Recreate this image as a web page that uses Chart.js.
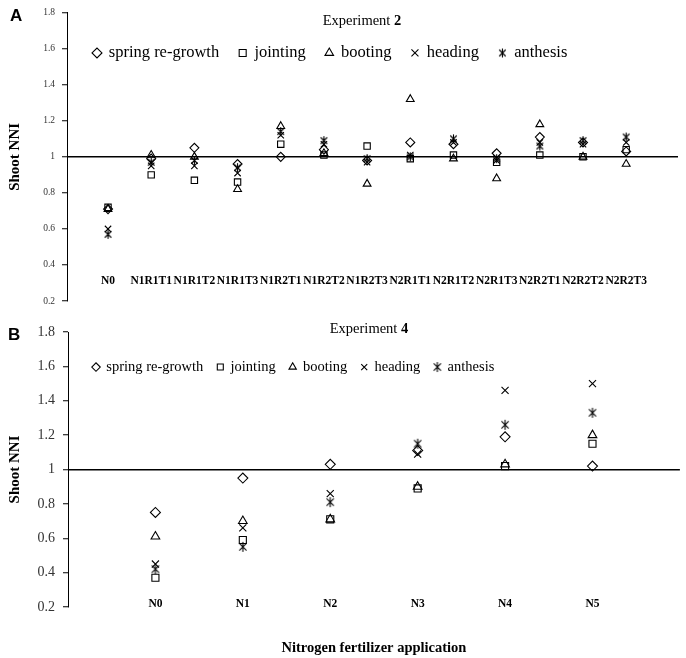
<!DOCTYPE html>
<html>
<head>
<meta charset="utf-8">
<script src="https://cdn.jsdelivr.net/npm/chart.js@4.4.0/dist/chart.umd.min.js"></script>
<style>
  body { margin: 0; background: #fff; }
  .wrap { position: relative; width: 686px; height: 658px; font-family: 'Liberation Serif', 'Times New Roman', serif; }
  canvas { position: absolute; left: 0; }
  .panel { position: absolute; font-family: 'Liberation Sans', Arial, sans-serif; font-weight: bold; font-size: 17px; line-height: 1; }
  .exp { position: absolute; font-size: 14.5px; transform: translate(-50%, -50%); white-space: nowrap; }
</style>
</head>
<body>
<div class="wrap">
  <canvas id="chartA" width="686" height="315" style="top:0"></canvas>
  <canvas id="chartB" width="686" height="343" style="top:315px"></canvas>
  <div class="panel" style="left:10px;top:7px">A</div>
  <div class="panel" style="left:8px;top:326px">B</div>
  <div class="exp" style="left:362px;top:20px">Experiment <b>2</b></div>
  <div class="exp" style="left:369px;top:328px">Experiment <b>4</b></div>
</div>
<script>
const seriesNames = ['spring re-growth', 'jointing', 'booting', 'heading', 'anthesis'];

// Experiment 2
const catsA = ['N0', 'N1R1T1', 'N1R1T2', 'N1R1T3', 'N1R2T1', 'N1R2T2', 'N1R2T3',
               'N2R1T1', 'N2R1T2', 'N2R1T3', 'N2R2T1', 'N2R2T2', 'N2R2T3'];
const springA   = [0.71, 0.99, 1.05, 0.96, 1.00, 1.04, 0.98, 1.08, 1.07, 1.02, 1.11, 1.08, 1.03];
const jointingA = [0.72, 0.90, 0.87, 0.86, 1.07, 1.01, 1.06, 0.99, 1.01, 0.97, 1.01, 1.00, 1.04];
const bootingA  = [0.71, 1.01, 1.00, 0.82, 1.17, 1.02, 0.85, 1.32, 0.99, 0.88, 1.18, 1.00, 0.96];
const headingA  = [0.60, 0.95, 0.95, 0.91, 1.12, 1.07, 0.97, 1.01, 1.08, 0.98, 1.08, 1.07, 1.08];
const anthesisA = [0.57, 0.97, 0.98, 0.94, 1.14, 1.09, 0.99, 1.00, 1.10, 0.99, 1.06, 1.09, 1.11];

// Experiment 4
const catsB = ['N0', 'N1', 'N2', 'N3', 'N4', 'N5'];
const springB   = [0.75, 0.95, 1.03, 1.11, 1.19, 1.02];
const jointingB = [0.37, 0.59, 0.71, 0.89, 1.02, 1.15];
const bootingB  = [0.61, 0.70, 0.71, 0.90, 1.03, 1.20];
const headingB  = [0.45, 0.66, 0.86, 1.09, 1.46, 1.50];
const anthesisB = [0.42, 0.55, 0.81, 1.15, 1.26, 1.33];

const yMin = 0.2, yMax = 1.8, yStep = 0.2;
const refLevel = 1;

Chart.defaults.font.family = "'Liberation Serif', 'Times New Roman', serif";
Chart.defaults.color = '#000';

// Excel style "star" marker: x with a vertical bar
function makeStar(r) {
  const s = Math.ceil(r * 2) + 2;
  const c = document.createElement('canvas');
  c.width = s; c.height = s;
  const g = c.getContext('2d');
  const m = s / 2, d = r * 0.72;
  g.strokeStyle = '#000';
  g.lineWidth = 1.1;
  g.beginPath();
  g.moveTo(m - d, m - d); g.lineTo(m + d, m + d);
  g.moveTo(m + d, m - d); g.lineTo(m - d, m + d);
  g.moveTo(m, m - r); g.lineTo(m, m + r);
  g.stroke();
  return c;
}

// legend sits inside the plot but keeps its items on one row
const rowLegend = {
  id: 'rowLegend',
  beforeLayout(chart) {
    if (chart.legend) chart.legend.isHorizontal = () => true;
  },
  afterLayout(chart, args, opts) {
    const lg = chart.legend;
    if (!lg) return;
    lg.left = chart.chartArea.left + (opts.shift || 0);
    lg.right = chart.chartArea.right;
  }
};

function panel(id, cats, series, opt) {
  const styles = ['rectRot', 'rect', 'triangle', 'crossRot', makeStar(opt.r)];
  new Chart(document.getElementById(id), {
    type: 'scatter',
    data: {
      datasets: series.map((vals, k) => ({
        label: seriesNames[k],
        data: vals.map((v, i) => ({ x: i + 1, y: v })),
        pointStyle: styles[k],
        pointRadius: opt.r,
        borderColor: '#000',
        backgroundColor: 'rgba(0,0,0,0)',
        borderWidth: 1.1
      }))
    },
    plugins: [rowLegend],
    options: {
      responsive: false,
      animation: false,
      layout: { padding: opt.pad },
      plugins: {
        tooltip: { enabled: false },
        rowLegend: { shift: opt.legendShift },
        legend: {
          position: 'chartArea',
          align: 'start',
          title: { display: true, text: '', font: { size: opt.legendGap }, padding: 0 },
          labels: {
            usePointStyle: true,
            boxWidth: opt.box,
            boxHeight: opt.box,
            padding: opt.legendPad,
            color: '#000',
            font: { size: opt.legendFont }
          }
        }
      },
      scales: {
        x: {
          type: 'linear',
          min: opt.xMin,
          max: opt.xMax,
          border: { display: false },
          grid: { display: false },
          afterBuildTicks: s => { s.ticks = cats.map((c, i) => ({ value: i + 1 })); },
          afterFit: s => { s.height = opt.xH; },
          ticks: {
            autoSkip: false,
            maxRotation: 0,
            mirror: true,
            padding: opt.xTickPad,
            color: '#000',
            font: { size: 11.5, weight: 'bold' },
            callback: v => cats[Math.round(v) - 1]
          },
          title: opt.xTitle
            ? { display: true, text: opt.xTitle, color: '#000', font: { size: 14.5, weight: 'bold' }, padding: { top: 0, bottom: 1 } }
            : { display: false }
        },
        y: {
          min: yMin,
          max: yMax,
          afterFit: s => { s.width = opt.yW; },
          border: { display: true, color: '#000', width: 1 },
          grid: {
            drawTicks: true,
            tickLength: 5,
            tickColor: '#000',
            tickWidth: 1,
            lineWidth: 1.5,
            color: c => Math.abs(c.tick.value - refLevel) < 1e-6 ? '#000' : 'rgba(0,0,0,0)'
          },
          ticks: {
            stepSize: yStep,
            padding: opt.yTickPad,
            color: '#333',
            font: { size: opt.yFont },
            callback: v => String(+v.toFixed(1))
          },
          title: {
            display: true,
            text: 'Shoot NNI',
            color: '#000',
            font: { size: 15, weight: 'bold' },
            padding: { top: 6, bottom: 0 }
          }
        }
      }
    }
  });
}

panel('chartA', catsA, [springA, jointingA, bootingA, headingA, anthesisA], {
  r: 4.5, pad: { top: 12, right: 8, bottom: 0, left: 0 },
  xMin: 0.05, xMax: 14.2, xH: 14, xTickPad: 13,
  yW: 67, yTickPad: 7, yFont: 9.5,
  legendFont: 16.5, legendPad: 20, box: 7, legendShift: 6.5, legendGap: 10
});

panel('chartB', catsB, [springB, jointingB, bootingB, headingB, anthesisB], {
  r: 5, pad: { top: 17, right: 6, bottom: 0, left: 0 },
  xMin: 0, xMax: 7, xH: 51, xTickPad: -4,
  yW: 68, yTickPad: 8, yFont: 14,
  legendFont: 14.5, legendPad: 14, box: 6, legendShift: 11, legendGap: 11.5,
  xTitle: 'Nitrogen fertilizer application'
});
</script>
</body>
</html>
